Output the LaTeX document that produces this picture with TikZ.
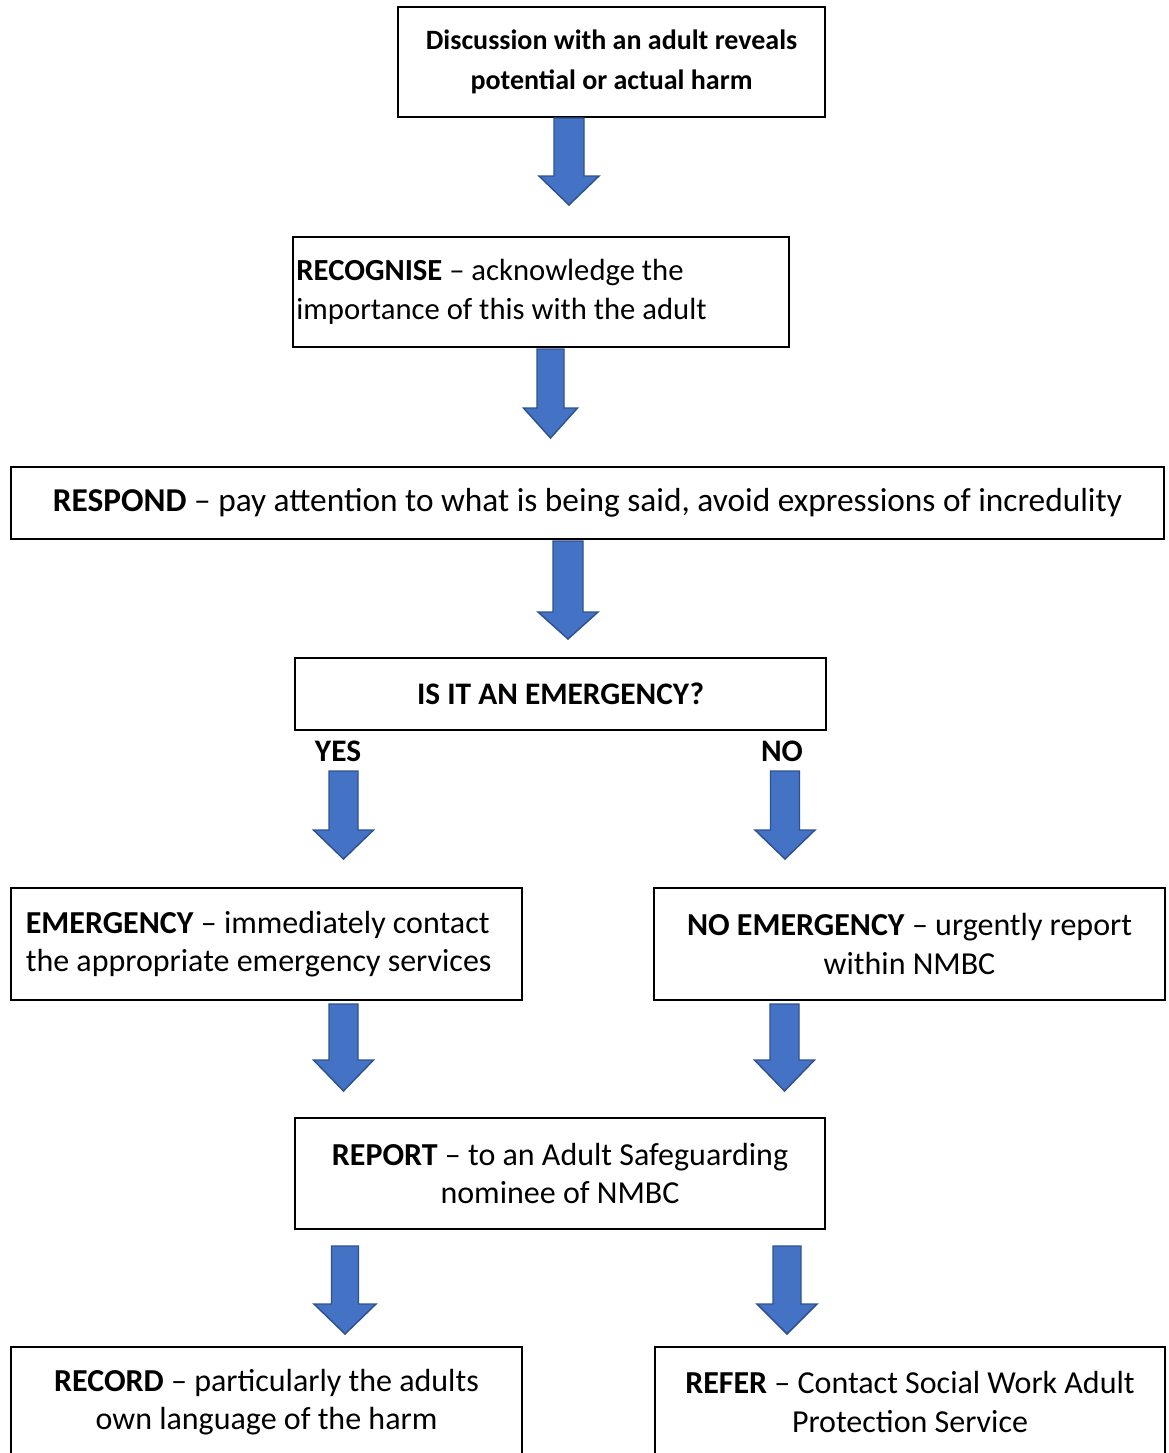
\documentclass[tikz,border=0pt]{standalone}
\usepackage{fontspec}
\setmainfont{Carlito}
\definecolor{arrowfill}{HTML}{4472C4}
\definecolor{arrowline}{HTML}{2F528F}
\newcommand\blockarrow[6]{% cx, top, headtop, tip, shaft half width, head half width
  \draw[blk] ({#1-#5},#2) -- ({#1+#5},#2) -- ({#1+#5},#3) -- ({#1+#6},#3)
    -- (#1,#4) -- ({#1-#6},#3) -- ({#1-#5},#3) -- cycle;}
\begin{document}
\begin{tikzpicture}[x=0.75pt,y=-0.75pt,
  box/.style={draw=black, line width=2.2pt, rectangle, inner sep=0pt,
    font=\fontsize{24}{29}\selectfont, align=center},
  txt/.style={inner sep=0pt, font=\fontsize{23}{29.5}\selectfont, align=left, anchor=west},
  sz/.style 2 args={minimum width=#1*0.75pt, minimum height=#2*0.75pt},
  blk/.style={fill=arrowfill, draw=arrowline, line width=1.1pt, line join=miter},
  lbl/.style={inner sep=0pt, font=\fontsize{23.5}{29}\selectfont\bfseries}]
\useasboundingbox (0,0) rectangle (1168,1453);
\fill[white] (0,0) rectangle (1168,1453);

% boxes
\node[box, sz={427}{110}, font=\fontsize{21}{29.5}\selectfont\bfseries] (b1) at (611.5,62)
  {Discussion with an adult reveals\\potential or actual harm};
\node[box, sz={496}{110}] (b2) at (541,292) {};
\node[txt] (t2) at ([xshift=3.5pt]b2.west)
  {\textbf{RECOGNISE} – acknowledge the\\importance of this with the adult};
\node[box, sz={1153}{72}, font=\fontsize{25}{29}\selectfont] (b3) at (587.5,503)
  {\textbf{RESPOND} – pay attention to what is being said, avoid expressions of incredulity};
\node[box, sz={531}{72}, font=\fontsize{23.5}{29}\selectfont\bfseries] (b4) at (560.5,694)
  {IS IT AN EMERGENCY?};
\node[lbl] (yes) at (338,751) {YES};
\node[lbl] (no) at (782,751) {NO};
\node[box, sz={511}{112}] (b5) at (266.5,944) {};
\node[txt, font=\fontsize{24}{29}\selectfont] (t5) at ([xshift=12pt]b5.west)
  {\textbf{EMERGENCY} – immediately contact\\the appropriate emergency services};
\node[box, sz={511}{112}] (b6) at (909.5,944)
  {\textbf{NO EMERGENCY} – urgently report\\within NMBC};
\node[box, sz={530}{111}] (b7) at (560,1173.5)
  {\textbf{REPORT} – to an Adult Safeguarding\\nominee of NMBC};
\node[box, sz={511}{110}] (b8) at (266.5,1402)
  {\textbf{RECORD} – particularly the adults\\own language of the harm};
\node[box, sz={510}{110}] (b9) at (910,1402)
  {\textbf{REFER} – Contact Social Work Adult\\Protection Service};

% block arrows
\blockarrow{569}{118}{176}{205}{15}{30}
\blockarrow{550.5}{349}{408}{438}{13.5}{27}
\blockarrow{568}{541}{612}{639}{15}{30}
\blockarrow{343.5}{771}{830}{859}{14.5}{30}
\blockarrow{785}{771}{830}{859}{14.5}{30}
\blockarrow{343.5}{1004}{1060}{1091}{14.5}{30}
\blockarrow{784.5}{1004}{1060}{1091}{14.5}{30}
\blockarrow{345}{1246}{1304}{1334}{13.5}{31}
\blockarrow{787}{1246}{1304}{1334}{14}{30}
\end{tikzpicture}
\end{document}
